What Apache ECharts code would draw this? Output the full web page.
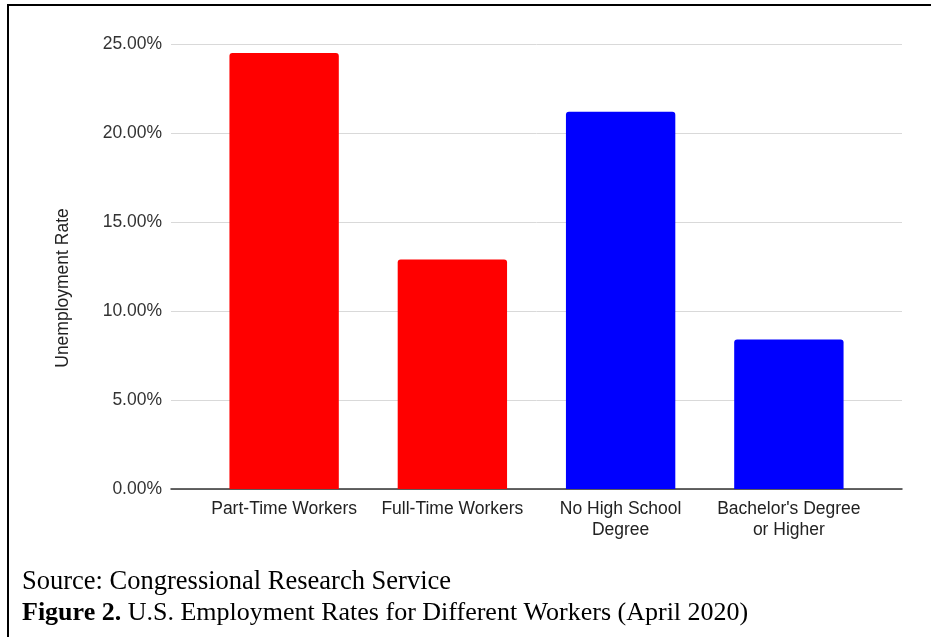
<!DOCTYPE html>
<html>
<head>
<meta charset="utf-8">
<script src="https://cdn.jsdelivr.net/npm/echarts@6/dist/echarts.min.js"></script>
<style>
  html, body { margin: 0; padding: 0; background: #fff; }
  #wrap { position: relative; width: 931px; height: 637px; overflow: hidden; }
  #frame { position: absolute; left: 7px; top: 4px; width: 940px; height: 700px;
           border-top: 2px solid #000; border-left: 2px solid #000; }
  #myChart { position: absolute; left: 0; top: 0; width: 931px; height: 637px; }
</style>
</head>
<body>
<div id="wrap">
  <div id="frame"></div>
  <div id="myChart"></div>
</div>
<script>
// 数据
const categories = ["Part-Time Workers", "Full-Time Workers", "No High School\nDegree", "Bachelor's Degree\nor Higher"];
const rates = [24.5, 12.9, 21.2, 8.4];
const barColors = ["#ff0000", "#ff0000", "#0000ff", "#0000ff"];
const yTicks = [0, 5, 10, 15, 20, 25];

const yMin = yTicks[0];
const yMax = yTicks[yTicks.length - 1];
const yStep = yTicks[1] - yTicks[0];

const sansFont = "Liberation Sans, Arial, sans-serif";

let myChart = echarts.init(document.getElementById("myChart"));

let option = {
  animation: false,
  grid: [
    // 背景网格（网格线和y轴标签）
    { left: 171, right: 29, top: 44, bottom: 148 },
    // 柱子
    { left: 200, right: 58, top: 44, bottom: 148 }
  ],
  xAxis: [
    {
      gridIndex: 0,
      type: "category",
      data: [""],
      axisLine: { show: true, lineStyle: { color: "#333", width: 1.5 } },
      axisTick: { show: false },
      axisLabel: { show: false }
    },
    {
      gridIndex: 1,
      type: "category",
      data: categories,
      axisLine: { show: false },
      axisTick: { show: false },
      axisLabel: {
        color: "#222",
        fontFamily: sansFont,
        fontSize: 17.5,
        lineHeight: 21,
        margin: 10,
        interval: 0
      }
    }
  ],
  yAxis: [
    {
      gridIndex: 0,
      type: "value",
      min: yMin,
      max: yMax,
      interval: yStep,
      axisLine: { show: false },
      axisTick: { show: false },
      splitLine: { show: true, lineStyle: { color: "#d9d9d9", width: 1 } },
      axisLabel: {
        color: "#333",
        fontFamily: sansFont,
        fontSize: 17.5,
        margin: 9,
        formatter: function (v) { return v.toFixed(2) + "%"; }
      }
    },
    {
      gridIndex: 1,
      type: "value",
      min: yMin,
      max: yMax,
      interval: yStep,
      show: false,
      splitLine: { show: false }
    }
  ],
  series: [
    {
      type: "bar",
      xAxisIndex: 1,
      yAxisIndex: 1,
      barWidth: "65%",
      data: rates.map(function (v, i) {
        return { value: v, itemStyle: { color: barColors[i], borderRadius: [3, 3, 0, 0] } };
      })
    }
  ],
  graphic: [
    {
      // y轴标题
      type: "text",
      x: 63,
      y: 288,
      rotation: Math.PI / 2,
      style: {
        text: "Unemployment Rate",
        fill: "#222",
        font: "17.5px 'Liberation Sans', Arial, sans-serif",
        align: "center",
        verticalAlign: "middle"
      }
    },
    {
      type: "text",
      x: 22,
      y: 582,
      style: {
        text: "Source: Congressional Research Service",
        fill: "#000",
        font: "26.5px 'Liberation Serif', 'Times New Roman', serif",
        align: "left",
        verticalAlign: "middle"
      }
    },
    {
      type: "text",
      x: 22,
      y: 613,
      style: {
        rich: {
          b: { fontWeight: "bold", fontSize: 26, fontFamily: "Liberation Serif", fill: "#000" },
          n: { fontSize: 26, fontFamily: "Liberation Serif", fill: "#000" }
        },
        text: "{b|Figure 2.}{n| U.S. Employment Rates for Different Workers (April 2020)}",
        align: "left",
        verticalAlign: "middle"
      }
    }
  ]
};

myChart.setOption(option, true);
</script>
</body>
</html>
